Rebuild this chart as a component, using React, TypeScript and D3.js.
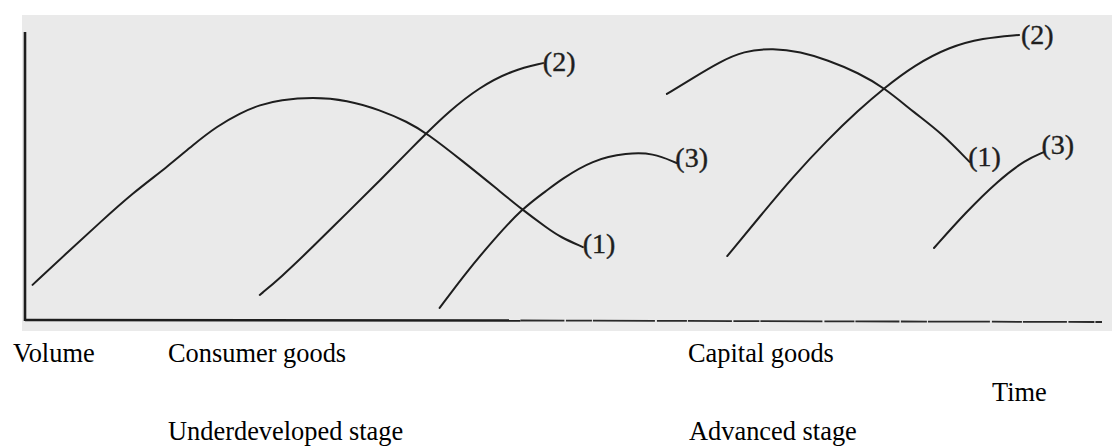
import React from "react";
import * as d3 from "d3";

// Time (0-100) vs Volume (0-100), hand-sketched product cycle curves
const consumer1: [number, number][] = [
  [0.7, 12.2], [3.9, 23.3], [7.0, 34.0], [10.0, 44.1], [13.2, 53.1], [15.6, 60.8],
  [17.8, 67.2], [20.0, 71.9], [21.8, 74.7], [23.7, 76.4], [26.7, 77.4], [29.9, 76.4],
  [33.0, 72.9], [35.5, 68.8], [37.3, 64.9], [40.7, 55.0], [43.8, 45.6], [46.1, 38.5],
  [48.5, 31.9], [49.7, 28.8], [51.8, 25.3],
];
const consumer2: [number, number][] = [
  [21.8, 8.7], [23.7, 14.6], [26.7, 25.3], [29.9, 37.2], [33.0, 48.6], [36.0, 60.1],
  [37.3, 64.9], [39.2, 71.9], [42.2, 80.9], [45.3, 86.8], [48.1, 89.2],
];
const consumer3: [number, number][] = [
  [38.5, 4.2], [41.0, 16.7], [43.5, 27.8], [46.1, 38.5], [48.5, 45.1], [49.7, 48.6],
  [52.7, 55.6], [55.9, 58.0], [58.3, 58.0], [60.5, 54.5],
];
const capital1: [number, number][] = [
  [59.6, 78.5], [62.0, 84.0], [64.5, 89.6], [66.7, 93.4], [69.5, 94.4], [72.0, 93.1],
  [74.5, 90.3], [77.4, 85.8], [79.8, 80.6], [82.6, 71.9], [85.1, 64.9], [87.7, 54.9],
];
const capital2: [number, number][] = [
  [65.2, 22.2], [68.2, 35.8], [71.3, 49.7], [74.5, 62.5], [77.4, 72.9], [79.8, 80.6],
  [82.6, 88.5], [85.8, 94.8], [88.9, 97.9], [92.3, 99.0],
];
const capital3: [number, number][] = [
  [84.4, 25.0], [87.3, 37.2], [90.4, 48.6], [92.9, 55.6], [94.6, 58.3],
];

const curveLabels: { text: string; t: number; v: number }[] = [
  { text: "(1)", t: 53.3, v: 26.7 },
  { text: "(2)", t: 49.6, v: 89.6 },
  { text: "(3)", t: 61.9, v: 56.3 },
  { text: "(1)", t: 89.1, v: 56.9 },
  { text: "(2)", t: 94.0, v: 99.0 },
  { text: "(3)", t: 95.9, v: 61.1 },
];

const bottomLabels: { text: string; x: number; y: number }[] = [
  { text: "Volume", x: 13, y: 362 },
  { text: "Consumer goods", x: 168, y: 362 },
  { text: "Capital goods", x: 688, y: 362 },
  { text: "Time", x: 992, y: 401 },
  { text: "Underdeveloped stage", x: 168, y: 440 },
  { text: "Advanced stage", x: 689, y: 440 },
];

const series = [consumer1, consumer2, consumer3, capital1, capital2, capital3];

export default function App() {
  const W = 1112;
  const H = 446;
  const x = d3.scaleLinear().domain([0, 100]).range([25, 1102]);
  const y = d3.scaleLinear().domain([0, 100]).range([320, 32]);
  const line = d3
    .line<[number, number]>()
    .x((d) => x(d[0]))
    .y((d) => y(d[1]))
    .curve(d3.curveBasis);

  const ink = "#1e1e1e";

  return (
    <svg
      width={W}
      height={H}
      style={{ position: "absolute", left: 0, top: 0, background: "#fff" }}
    >
      <rect x={22} y={15} width={W - 22} height={316} fill="#eaeaea" />
      {/* axes */}
      <line x1={x(0)} y1={y(100)} x2={x(0)} y2={y(0) + 1} stroke={ink} strokeWidth={2.6} />
      <line x1={x(0)} y1={y(0)} x2={x(46)} y2={y(0) + 0.5} stroke={ink} strokeWidth={2.4} />
      <line
        x1={x(46)}
        y1={y(0) + 0.5}
        x2={x(100)}
        y2={y(0) + 2}
        stroke="#2a2a2a"
        strokeWidth={1.8}
        strokeDasharray="44 1.5 26 1 62 2 30 1"
      />
      {series.map((s, i) => (
        <path key={i} d={line(s) || ""} fill="none" stroke={ink} strokeWidth={2} strokeLinecap="round" />
      ))}
      {curveLabels.map((l, i) => (
        <text
          key={i}
          x={x(l.t)}
          y={y(l.v)}
          fontFamily="'Liberation Serif', serif"
          fontSize={28}
          fill={ink}
          stroke={ink}
          strokeWidth={0.4}
          textAnchor="middle"
          dominantBaseline="central"
        >
          {l.text}
        </text>
      ))}
      {bottomLabels.map((l, i) => (
        <text
          key={i}
          x={l.x}
          y={l.y}
          fontFamily="'Liberation Serif', 'Times New Roman', serif"
          fontSize={26.4}
          fill="#000"
        >
          {l.text}
        </text>
      ))}
    </svg>
  );
}
